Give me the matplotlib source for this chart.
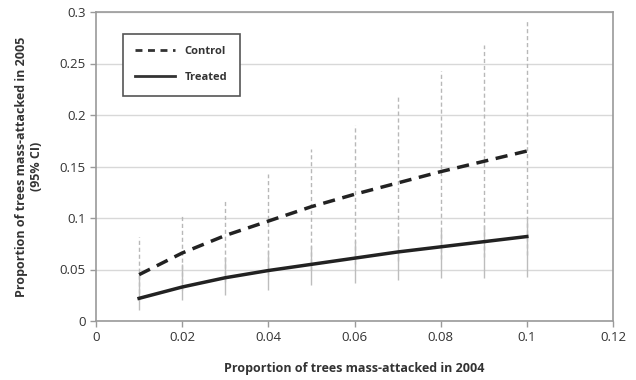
import matplotlib
matplotlib.use("Agg")
import matplotlib.pyplot as plt
from matplotlib.lines import Line2D

x = [0.01, 0.02, 0.03, 0.04, 0.05, 0.06, 0.07, 0.08, 0.09, 0.10]
control = [0.045, 0.066, 0.083, 0.097, 0.111, 0.123, 0.134, 0.145, 0.155, 0.165]
control_hi = [0.082, 0.103, 0.118, 0.143, 0.167, 0.190, 0.217, 0.243, 0.268, 0.293]
control_lo = [0.020, 0.030, 0.038, 0.045, 0.050, 0.055, 0.058, 0.060, 0.062, 0.064]
treated = [0.022, 0.033, 0.042, 0.049, 0.055, 0.061, 0.067, 0.072, 0.077, 0.082]
treated_hi = [0.045, 0.055, 0.062, 0.068, 0.073, 0.078, 0.083, 0.088, 0.093, 0.098]
treated_lo = [0.011, 0.020, 0.025, 0.030, 0.035, 0.037, 0.040, 0.042, 0.042, 0.043]

xticks = [0, 0.02, 0.04, 0.06, 0.08, 0.1, 0.12]
xticklabels = ["0", "0.02", "0.04", "0.06", "0.08", "0.1", "0.12"]
yticks = [0, 0.05, 0.1, 0.15, 0.2, 0.25, 0.3]
yticklabels = ["0", "0.05", "0.1", "0.15", "0.2", "0.25", "0.3"]

plt.rcParams['font.family'] = ['Open Sans', 'DejaVu Sans']

fig = plt.figure(figsize=(6.36, 3.8), dpi=100)
ax = fig.add_axes([96/636, 1-321/380, (613-96)/636, (321-12)/380])

ax.set_xlim(0, 0.12)
ax.set_ylim(0, 0.3)
ax.set_yticks(yticks)
ax.set_yticklabels(yticklabels)
ax.set_xticks(xticks)
ax.set_xticklabels(xticklabels)
ax.yaxis.grid(True, color="#d8d8d8", lw=1)
ax.set_axisbelow(True)

for s in ax.spines.values():
    s.set_color("#9a9a9a")
    s.set_linewidth(1.2)

ax.tick_params(axis='both', colors="#9a9a9a", labelcolor="#333333", labelsize=9.5, length=4, width=1)

# CI bars
ax.vlines(x, control_lo, control_hi, colors="#b8b8b8", linestyles=(0, (3, 2)), lw=1)
ax.vlines(x, treated_lo, treated_hi, colors="#bdbdbd", linestyles="solid", lw=1)

ax.plot(x, control, color="#222222", lw=2.5, ls=(0, (3.5, 2.2)))
ax.plot(x, treated, color="#222222", lw=2.5)

ax.set_xlabel("Proportion of trees mass-attacked in 2004", fontsize=9, fontweight="bold", color="#333333", labelpad=13)
ax.set_ylabel("Proportion of trees mass-attacked in 2005\n(95% CI)", fontsize=9, fontweight="bold", color="#333333", labelpad=12)

handles = [Line2D([], [], color="#333333", lw=2, ls=(0, (2.5, 2))),
           Line2D([], [], color="#333333", lw=2)]
leg = ax.legend(handles, ["Control", "Treated"], loc="upper left",
                bbox_to_anchor=((117-96)/517, 1-(28-12)/309), fancybox=False,
                edgecolor="#555555", framealpha=1,
                handlelength=3.6, borderpad=1.1, labelspacing=1.4, handletextpad=0.9,
                prop={'weight': 'bold', 'size': 8})
leg.get_frame().set_linewidth(1.2)
for t in leg.get_texts():
    t.set_color("#333333")

fig.savefig("out.png", dpi=100)
